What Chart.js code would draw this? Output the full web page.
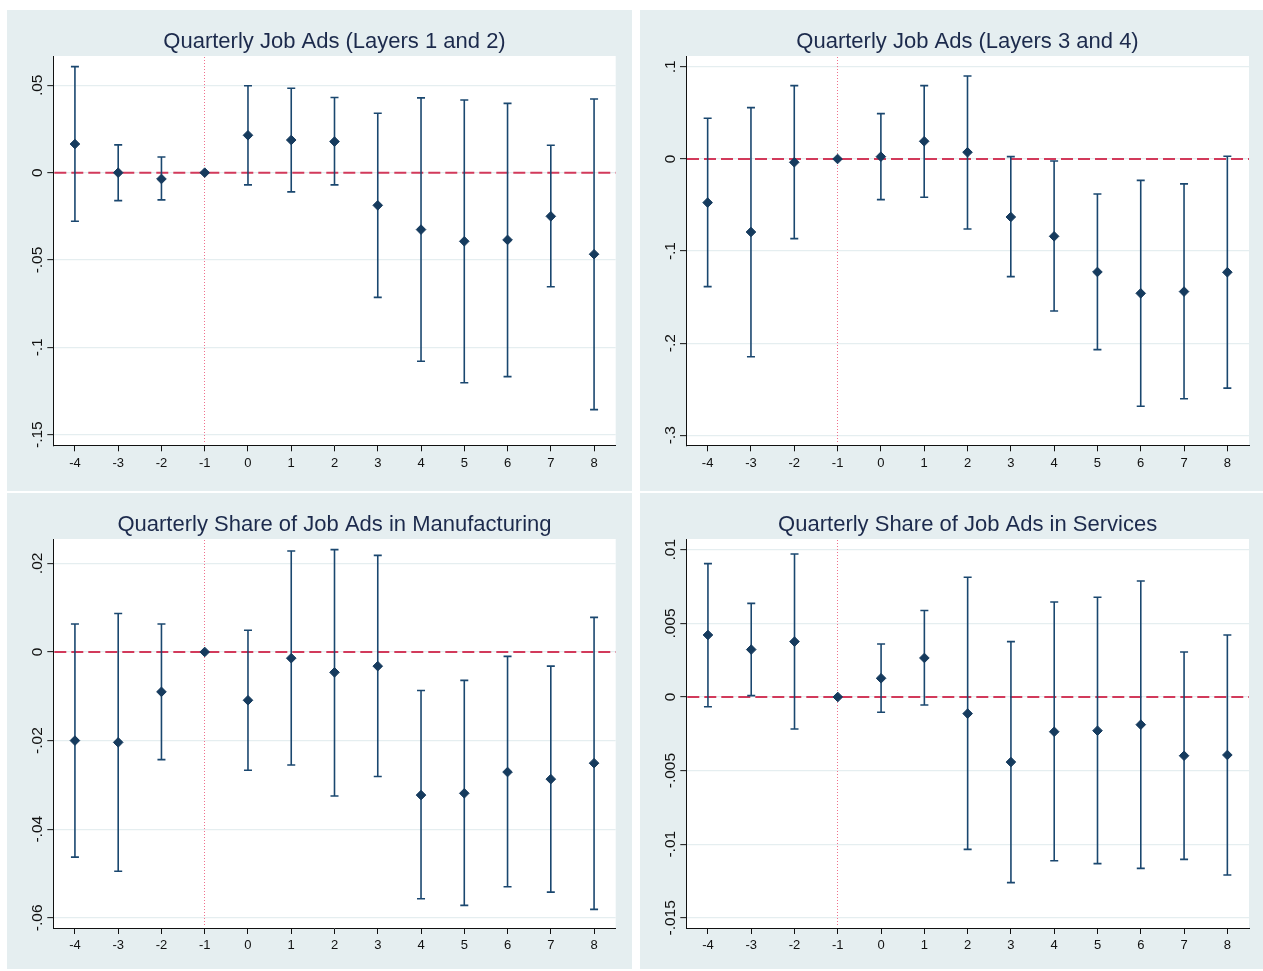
<!DOCTYPE html>
<html>
<head>
<meta charset="utf-8">
<title>Quarterly Job Ads event-study estimates</title>
<script src="https://cdn.jsdelivr.net/npm/chart.js@4.4.1/dist/chart.umd.min.js"></script>
<style>
  html, body { margin: 0; padding: 0; background: #ffffff; }
  body { width: 1263px; height: 971px; position: relative; overflow: hidden; }
  .panel { position: absolute; background: #e5eef0; }
  .panel canvas { display: block; }
</style>
</head>
<body>
<div class="panel" style="left:7px;top:10px;width:625px;height:481px"><canvas id="c1"></canvas></div>
<div class="panel" style="left:640px;top:10px;width:623px;height:481px"><canvas id="c2"></canvas></div>
<div class="panel" style="left:7px;top:493px;width:625px;height:476px"><canvas id="c3"></canvas></div>
<div class="panel" style="left:640px;top:493px;width:623px;height:476px"><canvas id="c4"></canvas></div>
<script>
// Event time (quarters relative to treatment); -1 is the omitted reference quarter
const quarters = [-4, -3, -2, -1, 0, 1, 2, 3, 4, 5, 6, 7, 8];
const quarterLabels = ['-4', '-3', '-2', '-1', '0', '1', '2', '3', '4', '5', '6', '7', '8'];
const referenceQuarter = -1;
const zeroLevel = 0;

// Quarterly Job Ads (Layers 1 and 2)
const layers12Title = 'Quarterly Job Ads (Layers 1 and 2)';
const layers12Coef = [0.0164, 0.0000, -0.0036, 0, 0.0214, 0.0187, 0.0178, -0.0187, -0.0326, -0.0393, -0.0385, -0.0250, -0.0467];
const layers12Low  = [-0.0278, -0.0160, -0.0156, 0, -0.0070, -0.0110, -0.0070, -0.0714, -0.1080, -0.1203, -0.1168, -0.0653, -0.1357];
const layers12High = [0.0607, 0.0159, 0.0090, 0, 0.0498, 0.0483, 0.0430, 0.0340, 0.0428, 0.0416, 0.0397, 0.0157, 0.0422];
const layers12Ticks = [-0.15, -0.1, -0.05, 0, 0.05];
const layers12TickLabels = ['-.15', '-.1', '-.05', '0', '.05'];

// Quarterly Job Ads (Layers 3 and 4)
const layers34Title = 'Quarterly Job Ads (Layers 3 and 4)';
const layers34Coef = [-0.0474, -0.0793, -0.0036, 0, 0.0025, 0.0192, 0.0073, -0.0630, -0.0840, -0.1227, -0.1459, -0.1440, -0.1230];
const layers34Low  = [-0.1386, -0.2147, -0.0865, 0, -0.0442, -0.0416, -0.0760, -0.1278, -0.1650, -0.2070, -0.2685, -0.2603, -0.2488];
const layers34High = [0.0442, 0.0557, 0.0796, 0, 0.0492, 0.0796, 0.0901, 0.0025, -0.0022, -0.0380, -0.0232, -0.0271, 0.0029];
const layers34Ticks = [-0.3, -0.2, -0.1, 0, 0.1];
const layers34TickLabels = ['-.3', '-.2', '-.1', '0', '.1'];

// Quarterly Share of Job Ads in Manufacturing
const manufTitle = 'Quarterly Share of Job Ads in Manufacturing';
const manufCoef = [-0.0200, -0.0204, -0.0090, 0, -0.0109, -0.0014, -0.0046, -0.0032, -0.0323, -0.0319, -0.0271, -0.0287, -0.0251];
const manufLow  = [-0.0463, -0.0495, -0.0243, 0, -0.0267, -0.0255, -0.0325, -0.0281, -0.0557, -0.0572, -0.0530, -0.0542, -0.0581];
const manufHigh = [0.0063, 0.0087, 0.0063, 0, 0.0049, 0.0228, 0.0231, 0.0218, -0.0087, -0.0064, -0.0010, -0.0032, 0.0078];
const manufTicks = [-0.06, -0.04, -0.02, 0, 0.02];
const manufTickLabels = ['-.06', '-.04', '-.02', '0', '.02'];

// Quarterly Share of Job Ads in Services
const servTitle = 'Quarterly Share of Job Ads in Services';
const servCoef = [0.00421, 0.00322, 0.00376, 0, 0.00127, 0.00265, -0.00113, -0.00442, -0.00236, -0.00229, -0.00188, -0.00399, -0.00394];
const servLow  = [-0.00066, 0.00009, -0.00217, 0, -0.00104, -0.00054, -0.01035, -0.01261, -0.01112, -0.01132, -0.01164, -0.01103, -0.01209];
const servHigh = [0.00906, 0.00636, 0.00971, 0, 0.00360, 0.00587, 0.00813, 0.00376, 0.00645, 0.00677, 0.00788, 0.00306, 0.00421];
const servTicks = [-0.015, -0.01, -0.005, 0, 0.005, 0.01];
const servTickLabels = ['-.015', '-.01', '-.005', '0', '.005', '.01'];

const FONT = "'Liberation Sans', Arial, Helvetica, sans-serif";
const NAVY = '#1a476f';
const MARKER = '#163b5e';
const GRID = '#e5eef0';
const AXIS = '#111111';

Chart.defaults.font.family = FONT;

// White plot region, reference lines, rotated y tick labels and the panel title
const panelDecor = {
  id: 'panelDecor',
  beforeDraw(chart) {
    const { ctx, chartArea } = chart;
    ctx.save();
    ctx.fillStyle = '#ffffff';
    ctx.fillRect(chartArea.left, chartArea.top, chartArea.right - chartArea.left, chartArea.bottom - chartArea.top);
    ctx.restore();
  },
  beforeDatasetsDraw(chart) {
    const { ctx, chartArea, scales } = chart;
    const x = scales.x, y = scales.y;
    ctx.save();
    // dotted vertical line at the reference quarter
    const xr = Math.floor(x.getPixelForValue(referenceQuarter)) + 0.5;
    ctx.strokeStyle = '#f0708c';
    ctx.lineWidth = 1;
    ctx.setLineDash([1, 2]);
    ctx.beginPath();
    ctx.moveTo(xr, Math.round(chartArea.top) + 1);
    ctx.lineTo(xr, Math.round(chartArea.bottom) - 3);
    ctx.stroke();
    // dashed horizontal line at zero
    const y0 = y.getPixelForValue(zeroLevel);
    ctx.strokeStyle = '#d23a5b';
    ctx.lineWidth = 2;
    ctx.setLineDash([12, 5]);
    ctx.beginPath();
    ctx.moveTo(chartArea.left + 1, y0);
    ctx.lineTo(chartArea.right, y0);
    ctx.stroke();
    ctx.restore();
  },
  afterDraw(chart, args, opts) {
    const { ctx, chartArea, scales } = chart;
    const y = scales.y;
    ctx.save();
    // y tick labels, reading bottom to top
    ctx.fillStyle = '#111111';
    ctx.font = '15.5px ' + FONT;
    ctx.textAlign = 'center';
    ctx.textBaseline = 'alphabetic';
    y.ticks.forEach((t) => {
      const py = y.getPixelForValue(t.value);
      const idx = opts.tickValues.indexOf(t.value);
      const label = idx >= 0 ? opts.tickLabels[idx] : String(t.value);
      ctx.save();
      ctx.translate(chartArea.left - 11.5, py);
      ctx.rotate(-Math.PI / 2);
      ctx.fillText(label, 0, 0);
      ctx.restore();
    });
    // title centred over the plot region
    ctx.fillStyle = '#1c2a4c';
    ctx.font = '22px ' + FONT;
    ctx.textAlign = 'center';
    ctx.textBaseline = 'alphabetic';
    ctx.fillText(opts.title, (chartArea.left + chartArea.right) / 2, opts.titleBaseline);
    ctx.restore();
  }
};

function makePanel(id, cfg) {
  const points = quarters.map((q, i) => ({ x: q, y: cfg.coef[i] }));
  const whiskers = quarters.flatMap((q, i) => [
    { x: q, y: cfg.low[i] }, { x: q, y: cfg.high[i] }, { x: q, y: null }
  ]);
  const caps = quarters.flatMap((q, i) => [{ x: q, y: cfg.low[i] }, { x: q, y: cfg.high[i] }]);

  return new Chart(document.getElementById(id), {
    type: 'scatter',
    data: {
      datasets: [
        {
          type: 'line', data: whiskers, borderColor: NAVY, borderWidth: 1.6,
          pointRadius: 0, spanGaps: false, fill: false, tension: 0, order: 3
        },
        {
          data: caps, pointStyle: 'line', pointRadius: 4,
          pointBorderColor: NAVY, borderColor: NAVY, pointBorderWidth: 1.6, borderWidth: 1.6, order: 2
        },
        {
          data: points, pointStyle: 'rectRot', pointRadius: 4.8,
          pointBackgroundColor: MARKER, backgroundColor: MARKER,
          pointBorderColor: MARKER, borderColor: MARKER, pointBorderWidth: 1, order: 1
        }
      ]
    },
    options: {
      responsive: true,
      maintainAspectRatio: false,
      devicePixelRatio: 1,
      animation: false,
      events: [],
      layout: { padding: cfg.padding },
      plugins: {
        legend: { display: false },
        tooltip: { enabled: false },
        panelDecor: {
          title: cfg.title, titleBaseline: cfg.titleBaseline,
          tickValues: cfg.ticks, tickLabels: cfg.tickLabels
        }
      },
      scales: {
        x: {
          type: 'linear', min: -4.5, max: 8.5,
          afterBuildTicks: (s) => { s.ticks = quarters.map((v) => ({ value: v })); },
          afterFit: (s) => { s.height = 30; },
          ticks: {
            autoSkip: false, maxRotation: 0, padding: 4, color: '#111111',
            font: { size: 13, family: FONT },
            callback: (v) => { const i = quarters.indexOf(v); return i >= 0 ? quarterLabels[i] : ''; }
          },
          grid: { drawOnChartArea: false, tickLength: 6, tickColor: AXIS, tickWidth: 1 },
          border: { display: true, color: AXIS, width: 1 }
        },
        y: {
          type: 'linear', min: cfg.yMin, max: cfg.yMax,
          afterBuildTicks: (s) => { s.ticks = cfg.ticks.map((v) => ({ value: v })); },
          afterFit: (s) => { s.width = 40; },
          ticks: { display: false },
          grid: { color: GRID, lineWidth: 1.3, tickLength: 6, tickColor: AXIS, tickWidth: 1 },
          border: { display: true, color: AXIS, width: 1 }
        }
      }
    },
    plugins: [panelDecor]
  });
}

makePanel('c1', {
  title: layers12Title, coef: layers12Coef, low: layers12Low, high: layers12High,
  ticks: layers12Ticks, tickLabels: layers12TickLabels, yMin: -0.1561, yMax: 0.0668,
  padding: { left: 6.3, right: 16.3, top: 46, bottom: 15.7 }, titleBaseline: 37.7
});
makePanel('c2', {
  title: layers34Title, coef: layers34Coef, low: layers34Low, high: layers34High,
  ticks: layers34Ticks, tickLabels: layers34TickLabels, yMin: -0.3109, yMax: 0.1118,
  padding: { left: 6, right: 14, top: 46, bottom: 15.7 }, titleBaseline: 37.7
});
makePanel('c3', {
  title: manufTitle, coef: manufCoef, low: manufLow, high: manufHigh,
  ticks: manufTicks, tickLabels: manufTickLabels, yMin: -0.0623, yMax: 0.0255,
  padding: { left: 6.3, right: 16.3, top: 46, bottom: 11 }, titleBaseline: 37.5
});
makePanel('c4', {
  title: servTitle, coef: servCoef, low: servLow, high: servHigh,
  ticks: servTicks, tickLabels: servTickLabels, yMin: -0.01569, yMax: 0.01073,
  padding: { left: 6.3, right: 14, top: 46, bottom: 11 }, titleBaseline: 37.5
});
</script>
</body>
</html>
